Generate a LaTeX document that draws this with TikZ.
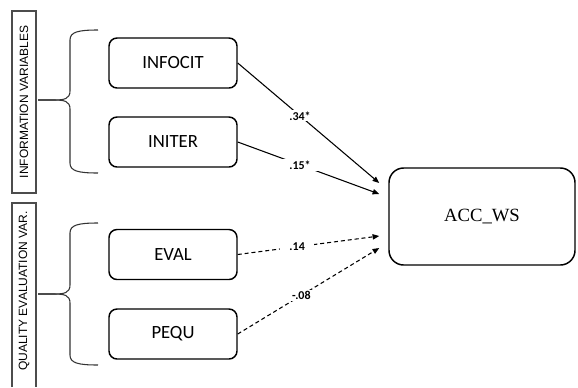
\documentclass[tikz,border=0pt]{standalone}
\usepackage{fontspec}
\setmainfont{Carlito}
\newfontfamily\accfont{Liberation Serif}
\newfontfamily\groupfont{Liberation Sans}
\usetikzlibrary{arrows.meta}

\begin{document}
\begin{tikzpicture}[x=0.75pt, y=-0.75pt,
    var/.style={draw=black, line width=1.1pt, rounded corners=6pt, minimum width=96pt, minimum height=37.5pt, inner sep=0pt, font=\fontsize{14}{16}\selectfont},
    dep/.style={draw=black, line width=1.1pt, rounded corners=11pt, minimum width=139.5pt, minimum height=72.75pt, font=\accfont\fontsize{14}{16}\selectfont},
    group/.style={rotate=90, inner sep=0pt, font=\groupfont\fontsize{9}{10}\selectfont},
    frame/.style={draw=black!70, line width=0.8pt},
    coef/.style={fill=white, inner xsep=7pt, inner ysep=1pt, font=\bfseries\fontsize{9}{10}\selectfont},
    link/.style={-{Triangle[length=5pt,width=4pt]}, line width=0.8pt},
    weaklink/.style={link, dash pattern=on 3pt off 2.2pt}]

        \useasboundingbox (0,0) rectangle (578,387);

        % Group labels on the left
        \node[group, frame, minimum width=136.5pt, minimum height=18pt] (infolbl) at (24,102) {INFORMATION VARIABLES};
        \node[group] (quallbl) at (24,291) {QUALITY EVALUATION VAR.};
        \draw[frame] (12,387) |- (36,203) -- (36,387);

        % Braces: top end / tip / bottom end
        \foreach \ya/\yt/\yb in {30/100/173, 223/294/365} {
          \draw[line width=0.8pt, black!80] (98,\ya) .. controls (78,\ya) and (70,\ya+2) .. (70,\ya+10) -- (70,\yt-9)
                .. controls (70,\yt-1) and (64,\yt) .. (54,\yt) -- (38,\yt);
          \draw[line width=0.8pt, black!80] (38,\yt) -- (54,\yt) .. controls (64,\yt) and (70,\yt+1) .. (70,\yt+9)
                -- (70,\yb-10) .. controls (70,\yb-2) and (78,\yb) .. (98,\yb);
        }

        % Predictors
        \node[var] (infocit) at (173,63) {INFOCIT};
        \node[var] (initer) at (173,142) {INITER};
        \node[var] (eval) at (173,254.5) {EVAL};
        \node[var] (pequ) at (173,334) {PEQU};

        % Outcome
        \node[dep] (acc) at (482,216.5) {ACC\_WS};

        % Arrow ends in front of the outcome
        \coordinate (in1) at ([shift={(-9,-33.5)}] acc.west);
        \coordinate (in2) at ([shift={(-9,-22.5)}] acc.west);
        \coordinate (in3) at ([shift={(-9,19.5)}] acc.west);
        \coordinate (in4) at ([shift={(-9,31.5)}] acc.west);

        % Paths with coefficients
        \draw[link] (infocit.east) -- node[coef, pos=0.44] {.34*} (in1);
        \draw[link] (initer.east) -- node[coef, pos=0.44] {.15*} (in2);
        \draw[weaklink] (eval.east) -- node[coef, pos=0.42] {.14} (in3);
        \draw[weaklink] (pequ.east) -- node[coef, pos=0.45] {-.08} (in4);

      \end{tikzpicture}
\end{document}
